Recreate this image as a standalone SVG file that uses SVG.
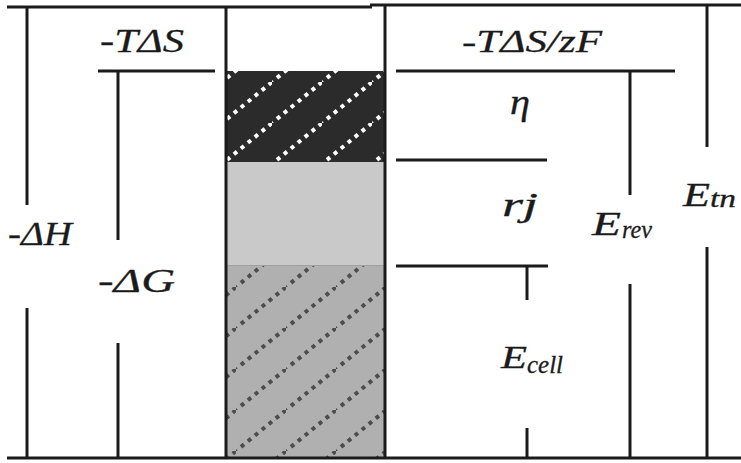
<svg xmlns="http://www.w3.org/2000/svg" width="741" height="463" viewBox="0 0 741 463">
<style>
.ln{stroke:#1b1b1b;stroke-width:3;fill:none}
.t{font-family:"Liberation Serif","Times New Roman",serif;font-style:italic;fill:#1b1b1b;stroke:#1b1b1b;stroke-width:0.3}
</style>
<defs>
<pattern id="hatchDark" patternUnits="userSpaceOnUse" x="22" y="0" width="50" height="41">
<rect width="50" height="41" fill="#2b2b2b"/>
<line x1="-2" y1="42.6" x2="52" y2="-1.6" stroke="#ffffff" stroke-width="4" stroke-dasharray="4 5"/>
</pattern>
<pattern id="hatchMid" patternUnits="userSpaceOnUse" x="36" y="0" width="50" height="41">
<rect width="50" height="41" fill="#b0b0b0"/>
<line x1="-2" y1="42.6" x2="52" y2="-1.6" stroke="#4d4d4d" stroke-width="4" stroke-dasharray="4 5"/>
</pattern>
</defs>
<rect width="741" height="463" fill="#ffffff"/>
<g id="column">
<rect x="226" y="71" width="159" height="91" fill="url(#hatchDark)"/>
<rect x="226" y="162" width="159" height="104" fill="#c9c9c9"/>
<line x1="226" y1="266" x2="385" y2="266" stroke="#777" stroke-width="1"/>
<rect x="226" y="266" width="159" height="192" fill="url(#hatchMid)"/>
<line class="ln" x1="226" y1="7" x2="226" y2="458"/>
<line class="ln" x1="385" y1="5" x2="385" y2="458"/>
</g>
<g id="connectors">
<line class="ln" x1="7" y1="7" x2="372" y2="7"/>
<line class="ln" x1="370" y1="5" x2="741" y2="5"/>
<line class="ln" x1="7" y1="458" x2="741" y2="458"/>
<line class="ln" x1="27" y1="7" x2="27" y2="205"/>
<line class="ln" x1="27" y1="308" x2="27" y2="458"/>
<line class="ln" x1="98" y1="71" x2="215" y2="71"/>
<line class="ln" x1="118" y1="71" x2="118" y2="240"/>
<line class="ln" x1="118" y1="343" x2="118" y2="458"/>
<line class="ln" x1="396" y1="71" x2="675" y2="71"/>
<line class="ln" x1="396" y1="160" x2="547" y2="160"/>
<line class="ln" x1="396" y1="266" x2="548" y2="266"/>
<line class="ln" x1="630" y1="71" x2="630" y2="195"/>
<line class="ln" x1="630" y1="284" x2="630" y2="458"/>
<line class="ln" x1="707" y1="5" x2="707" y2="147"/>
<line class="ln" x1="707" y1="247" x2="707" y2="458"/>
<line class="ln" x1="527" y1="266" x2="527" y2="300"/>
<line class="ln" x1="527" y1="428" x2="527" y2="458"/>
</g>
<g id="label-TdS"><text class="t" x="100" y="52" font-size="34" textLength="84" lengthAdjust="spacingAndGlyphs">-TΔS</text></g>
<g id="label-TdSzF"><text class="t" x="462" y="52" font-size="32" textLength="140" lengthAdjust="spacingAndGlyphs">-TΔS/zF</text></g>
<g id="label-eta"><text class="t" x="510" y="114" font-size="36" textLength="20" lengthAdjust="spacingAndGlyphs">η</text></g>
<g id="label-rj"><text class="t" x="502" y="216" font-size="34" textLength="36" lengthAdjust="spacingAndGlyphs">rj</text></g>
<g id="label-dH"><text class="t" x="8" y="245" font-size="34" textLength="64" lengthAdjust="spacingAndGlyphs">-ΔH</text></g>
<g id="label-dG"><text class="t" x="98" y="292" font-size="34" textLength="77" lengthAdjust="spacingAndGlyphs">-ΔG</text></g>
<g id="label-Erev">
<text class="t" x="592" y="235" font-size="34" textLength="29" lengthAdjust="spacingAndGlyphs">E</text>
<text class="t" x="622" y="238" font-size="26" textLength="30" lengthAdjust="spacingAndGlyphs">rev</text>
</g>
<g id="label-Etn">
<text class="t" x="683" y="206" font-size="34" textLength="27" lengthAdjust="spacingAndGlyphs">E</text>
<text class="t" x="710" y="207" font-size="25" textLength="26" lengthAdjust="spacingAndGlyphs">tn</text>
</g>
<g id="label-Ecell">
<text class="t" x="501" y="368" font-size="32" textLength="26" lengthAdjust="spacingAndGlyphs">E</text>
<text class="t" x="527" y="373" font-size="25" textLength="36" lengthAdjust="spacingAndGlyphs">cell</text>
</g>
</svg>
